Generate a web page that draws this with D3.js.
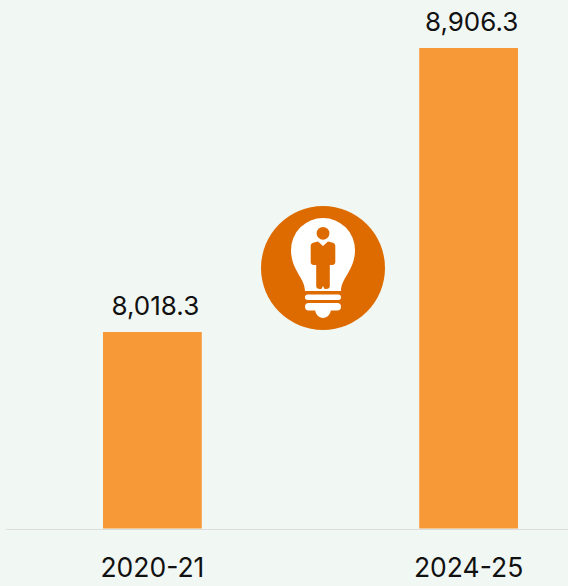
<!DOCTYPE html>
<html>
<head>
<meta charset="utf-8">
<script src="https://cdn.jsdelivr.net/npm/d3@7"></script>
<style>
  html, body { margin: 0; padding: 0; background: #f1f7f3; }
  svg { display: block; font-family: "Inter", "Noto Sans", sans-serif; }
</style>
</head>
<body>
<svg id="chart"></svg>
<script>
const categories = ["2020-21", "2024-25"];
const values = [8018.3, 8906.3];
const valueLabels = ["8,018.3", "8,906.3"];

const WIDTH = 568, HEIGHT = 586;
const BASELINE = 528.5;

const svg = d3.select("#chart").attr("width", WIDTH).attr("height", HEIGHT);

const x = d3.scaleBand().domain(categories).range([103, 518]).paddingInner(0.6877).paddingOuter(0);
// the value axis is cut off, bars do not start at zero
const y = d3.scaleLinear().domain([7404, 8906.3]).range([BASELINE, 48]);

svg.append("rect").attr("width", WIDTH).attr("height", HEIGHT).attr("fill", "#f1f7f3");

// bars
svg.selectAll(".bar")
    .data(categories)
    .enter()
    .append("rect")
    .attr("class", "bar")
    .attr("x", d => x(d))
    .attr("y", (d, i) => y(values[i]))
    .attr("width", x.bandwidth())
    .attr("height", (d, i) => BASELINE - y(values[i]))
    .attr("fill", "#f79936");

// baseline
svg.append("line")
    .attr("x1", 6).attr("x2", WIDTH)
    .attr("y1", 529.5).attr("y2", 529.5)
    .attr("stroke", "#dcdcdc")
    .attr("stroke-width", 1);

// category labels
const xAxis = svg.append("g")
    .attr("transform", `translate(0,${BASELINE})`)
    .call(d3.axisBottom(x).tickSize(0).tickPadding(30));
xAxis.select(".domain").remove();
xAxis.selectAll("text")
    .attr("fill", "#111111")
    .style("font-family", "Inter, sans-serif")
    .style("font-size", "26.5px");

// value labels
svg.selectAll(".value")
    .data(categories)
    .enter()
    .append("text")
    .attr("class", "value")
    .attr("x", d => x(d) + x.bandwidth() / 2 + 3)
    .attr("y", (d, i) => y(values[i]) - 17)
    .attr("text-anchor", "middle")
    .attr("fill", "#111111")
    .style("font-size", "26px")
    .text((d, i) => valueLabels[i]);

// light bulb badge
const icon = svg.append("g").attr("transform", "translate(323,268)");
icon.append("circle").attr("r", 62).attr("fill", "#de6b00");
icon.append("path")
    .attr("fill", "#ffffff")
    .attr("d", "M-18,23 C-18,10 -32,2 -32,-18 A32,32 0 1 1 32,-18 C32,2 18,10 18,23 Z");
icon.append("rect").attr("x", -18).attr("y", 26.5).attr("width", 36).attr("height", 5.5).attr("rx", 2.7).attr("fill", "#ffffff");
icon.append("rect").attr("x", -18).attr("y", 35).attr("width", 36).attr("height", 7.5).attr("rx", 3.7).attr("fill", "#ffffff");
icon.append("path")
    .attr("fill", "#ffffff")
    .attr("d", "M-8,41 L8,41 C8,46 4,50 0,50 C-4,50 -8,46 -8,41 Z");
// person
icon.append("circle").attr("cx", 0).attr("cy", -34.7).attr("r", 6.4).attr("fill", "#de6b00");
icon.append("path")
    .attr("fill", "#de6b00")
    .attr("d", "M-12.3,-22 Q-12.3,-25 -9,-25.5 L-5,-26.5 L0,-22 L5,-26.5 L9,-25.5 Q12.3,-25 12.3,-22 L12.3,-6 Q12.3,-3 9,-3 L6.8,-3 L6.8,18 Q6.8,21 3,21 L1.6,21 L0,18 L-1.6,21 L-3,21 Q-6.8,21 -6.8,18 L-6.8,-3 L-9,-3 Q-12.3,-3 -12.3,-6 Z");
</script>
</body>
</html>
